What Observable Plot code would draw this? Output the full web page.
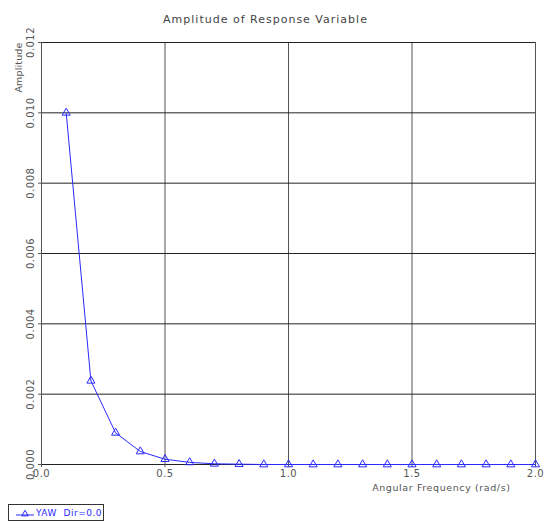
<!DOCTYPE html>
<html>
<head>
<meta charset="utf-8">
<script src="https://cdn.jsdelivr.net/npm/d3@7"></script>
<script src="https://cdn.jsdelivr.net/npm/@observablehq/plot@0.6"></script>
<style>
  body { margin: 0; background: #fff; font-family: "DejaVu Sans", sans-serif; }
  #wrap { position: relative; width: 548px; height: 523px; }
  #legend { position: absolute; left: 8px; top: 504px; width: 96px; height: 17px; border: 1px solid #333; box-sizing: border-box; }
  #legend svg { display: block; }
</style>
</head>
<body>
<div id="wrap"><div id="chart"></div><div id="legend"></div></div>
<script>
const title = "Amplitude of Response Variable";
const xLabel = "Angular Frequency (rad/s)";
const yLabel = "Amplitude";
const seriesName = "YAW  Dir=0.0";
const freq = [0.1,0.2,0.3,0.4,0.5,0.6,0.7,0.8,0.9,1.0,1.1,1.2,1.3,1.4,1.5,1.6,1.7,1.8,1.9,2.0];
const amp  = [0.0100,0.00238,0.00090,0.00037,0.00015,0.00006,0.00002,0.00001,0,0,0,0,0,0,0,0,0,0,0,0];
const xTicks = [0.0,0.5,1.0,1.5,2.0];
const yTicks = [0.000,0.002,0.004,0.006,0.008,0.010,0.012];

const data = freq.map((f,i) => ({f, a: amp[i]}));
const blue = "#2a2aff";
const txt = "#555";

const plot = Plot.plot({
  width: 548, height: 500,
  marginLeft: 41, marginRight: 13, marginTop: 42, marginBottom: 36,
  style: {fontFamily: "DejaVu Sans, sans-serif", fontSize: "9px", color: txt, background: "#fff"},
  x: {domain: [0, 2], ticks: xTicks},
  y: {domain: [0, 0.012], ticks: yTicks},
  marks: [
    Plot.gridX(xTicks.slice(1), {stroke: "#555", strokeOpacity: 1}),
    Plot.gridY(yTicks.slice(1), {stroke: "#222", strokeOpacity: 1}),
    Plot.ruleX([0], {stroke: "#555"}),
    Plot.ruleY([0], {stroke: "#222"}),
    Plot.axisX(xTicks, {tickSize: 3, tickFormat: d3.format(".1f"), fill: txt, fontSize: 10, label: null, tickPadding: 2}),
    Plot.axisY(yTicks, {tickSize: 3, tickFormat: d3.format(".3f"), tickRotate: -90, fill: txt, fontSize: 10, label: null, tickPadding: 5}),
    Plot.text([xLabel], {frameAnchor: "bottom-right", dx: -25, dy: 26, fill: txt, fontSize: 9.5, text: d => d, textAnchor: "end"}),
    Plot.text([yLabel], {frameAnchor: "top-left", dx: -26, dy: 0, rotate: -90, fill: txt, fontSize: 9.5, text: d => d, textAnchor: "end"}),
    Plot.text([title], {frameAnchor: "top", dx: -23, dy: -27, fill: "#444", fontSize: 11, text: d => d}),
    Plot.line(data, {x: "f", y: "a", stroke: blue, strokeWidth: 1}),
    Plot.dot(data, {x: "f", y: "a", symbol: "triangle", r: 3, stroke: blue, fill: "none", strokeWidth: 1})
  ]
});
const spacing = {[title]: "1.0px", [xLabel]: "0.6px", [yLabel]: "0.15px"};
d3.select(plot).selectAll("text").each(function() {
  const t = this.textContent;
  if (spacing[t]) this.style.letterSpacing = spacing[t];
  else if (/^\d\.\d+$/.test(t)) this.style.letterSpacing = "0.5px";
});
document.getElementById("chart").appendChild(plot);

// legend
const lg = d3.select("#legend").append("svg").attr("width", 94).attr("height", 15);
lg.append("line").attr("x1", 7).attr("x2", 25).attr("y1", 10).attr("y2", 10).attr("stroke", blue);
lg.append("path").attr("d", d3.symbol(d3.symbolTriangle, 18)()).attr("transform", "translate(16,9)").attr("fill", "none").attr("stroke", blue);
lg.append("text").attr("x", 27).attr("y", 11).attr("fill", blue).attr("font-size", 9).attr("letter-spacing", "0.5px").style("white-space", "pre").text(seriesName);
</script>
</body>
</html>
